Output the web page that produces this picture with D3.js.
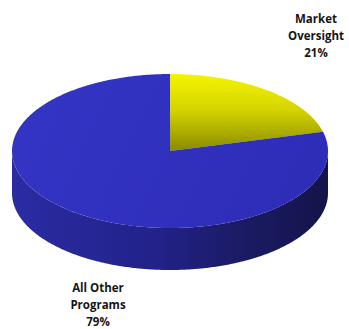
<!DOCTYPE html>
<html>
<head>
<meta charset="utf-8">
<script src="https://cdn.jsdelivr.net/npm/d3@7"></script>
<style>
  html, body { margin: 0; padding: 0; background: #fff; }
  svg { display: block; }
  .lbl { font-family: "Open Sans", "Noto Sans", sans-serif; font-weight: 700; font-size: 11.5px; fill: #151515; }
</style>
</head>
<body>
<div id="chart"></div>
<script>
// Budget share by program
const categories = ["Market Oversight", "All Other Programs"];
const values = [21, 79];
const labelLines = [["Market", "Oversight", "21%"], ["All Other", "Programs", "79%"]];

const W = 349, H = 329;
const cx = 170, cy = 151, rx = 158, ry = 77, depth = 42;

const svg = d3.select("#chart").append("svg").attr("width", W).attr("height", H);
const defs = svg.append("defs");

// Gradients: yellow top fades to olive toward the centre, blue wall darkens to the right
const gy = defs.append("linearGradient").attr("id", "gYellow")
  .attr("gradientUnits", "userSpaceOnUse").attr("x1", 0).attr("y1", cy - ry).attr("x2", 0).attr("y2", cy);
gy.append("stop").attr("offset", 0).attr("stop-color", "#f4f400");
gy.append("stop").attr("offset", 0.45).attr("stop-color", "#d6d600");
gy.append("stop").attr("offset", 1).attr("stop-color", "#8a8a00");

const gb = defs.append("linearGradient").attr("id", "gBlueTop")
  .attr("gradientUnits", "userSpaceOnUse").attr("x1", cx - rx).attr("y1", cy - ry).attr("x2", cx + rx).attr("y2", cy + ry);
gb.append("stop").attr("offset", 0).attr("stop-color", "#3535c6");
gb.append("stop").attr("offset", 1).attr("stop-color", "#2c2cb6");

const gw = defs.append("linearGradient").attr("id", "gBlueWall")
  .attr("gradientUnits", "userSpaceOnUse").attr("x1", cx - rx).attr("y1", 0).attr("x2", cx + rx).attr("y2", 0);
gw.append("stop").attr("offset", 0).attr("stop-color", "#2b2ba4");
gw.append("stop").attr("offset", 0.45).attr("stop-color", "#22228a");
gw.append("stop").attr("offset", 0.75).attr("stop-color", "#1a1a62");
gw.append("stop").attr("offset", 1).attr("stop-color", "#14144a");

const fills = ["url(#gYellow)", "url(#gBlueTop)"];

// Angles measured clockwise from 12 o'clock
const pie = d3.pie().sort(null).value(d => d)(values);

// Projected ellipse point for angle a, optionally dropped by the wall depth
const ex = a => cx + rx * Math.sin(a);
const ey = (a, dy = 0) => cy - ry * Math.cos(a) + dy;

const line = d3.line();
function arcPts(a0, a1, dy = 0) {
  const n = Math.max(2, Math.ceil(Math.abs(a1 - a0) / 0.01));
  return d3.range(n + 1).map(i => {
    const a = a0 + (a1 - a0) * i / n;
    return [ex(a), ey(a, dy)];
  });
}

// Side wall: only the front half (PI/2 .. 3PI/2) is visible
const gWall = svg.append("g");
pie.forEach((d, i) => {
  const a0 = Math.max(d.startAngle, Math.PI / 2);
  const a1 = Math.min(d.endAngle, 3 * Math.PI / 2);
  if (a1 <= a0) return;
  const pts = arcPts(a0, a1).concat(arcPts(a1, a0, depth));
  gWall.append("path")
    .attr("d", line(pts) + "Z")
    .attr("fill", i === 0 ? "#8a8a00" : "url(#gBlueWall)");
});

// Top faces
const gTop = svg.append("g");
pie.forEach((d, i) => {
  const pts = [[cx, cy]].concat(arcPts(d.startAngle, d.endAngle));
  gTop.append("path")
    .attr("d", line(pts) + "Z")
    .attr("fill", fills[i]);
});

// Labels
const labelPos = [[316, 23], [98, 292]];
const lineH = 17;
labelLines.forEach((lines, i) => {
  const t = svg.append("text").attr("class", "lbl").attr("text-anchor", "middle")
    .attr("x", labelPos[i][0]).attr("y", labelPos[i][1]);
  lines.forEach((s, j) => {
    t.append("tspan").attr("x", labelPos[i][0]).attr("dy", j === 0 ? 0 : lineH).text(s);
  });
});
</script>
</body>
</html>
